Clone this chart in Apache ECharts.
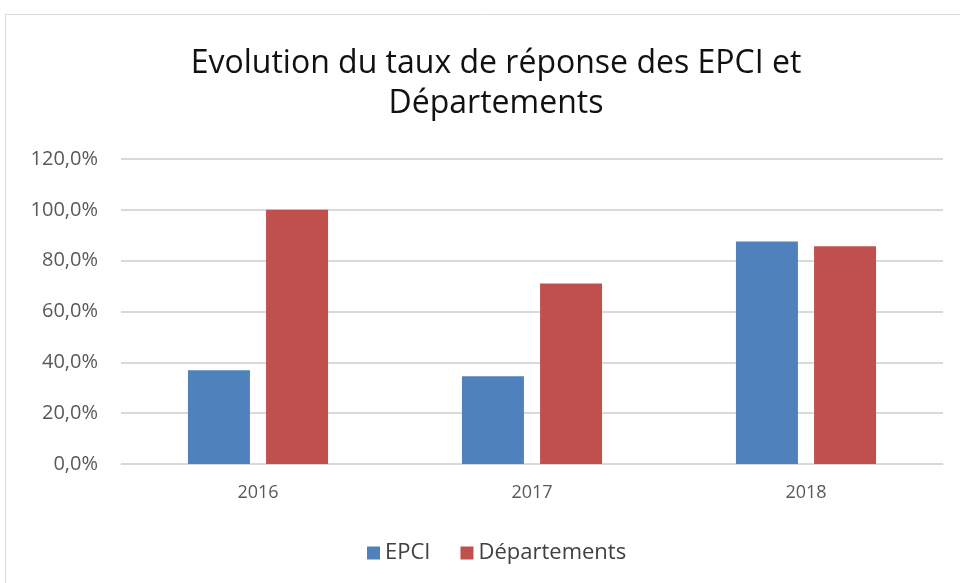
<!DOCTYPE html>
<html>
<head>
<meta charset="utf-8">
<script src="https://cdn.jsdelivr.net/npm/echarts@6/dist/echarts.min.js"></script>
<style>
  html, body { margin: 0; padding: 0; background: #fff; }
  #chart { width: 960px; height: 583px; }
</style>
</head>
<body>
<div id="chart"></div>
<script>
// données
var annees = ['2016', '2017', '2018'];
var epci = [36.9, 34.5, 87.5];
var departements = [100.0, 71.0, 85.7];
var nomsSeries = ['EPCI', 'Départements'];

var police = '"Open Sans", Lato, sans-serif';

var myChart = echarts.init(document.getElementById('chart'));

function pct(v) {
    return v.toFixed(1).replace('.', ',') + '%';
}

var opt_ = {
    animation: false,
    backgroundColor: '#fff',
    graphic: [{
        type: 'rect',
        shape: { x: 5.5, y: 14.5, width: 1200, height: 1200 },
        style: { fill: 'none', stroke: '#d9d9d9', lineWidth: 1 },
        silent: true
    }],
    title: {
        text: 'Evolution du taux de réponse des EPCI et\nDépartements',
        left: 491,
        top: 39,
        textAlign: 'center',
        textStyle: {
            fontFamily: police,
            fontWeight: 'normal',
            fontSize: 32,
            color: '#111',
            lineHeight: 40
        }
    },
    legend: {
        data: nomsSeries,
        left: 362,
        top: 537,
        itemWidth: 13,
        itemHeight: 13,
        itemGap: 30,
        icon: 'rect',
        textStyle: { fontFamily: police, fontSize: 22, color: '#404040' }
    },
    grid: {
        left: 121,
        right: 17,
        top: 159,
        bottom: 119
    },
    xAxis: {
        type: 'category',
        data: annees,
        axisTick: { show: false },
        axisLine: { lineStyle: { color: '#d9d9d9', width: 1 } },
        axisLabel: { fontFamily: police, fontSize: 18, color: '#595959', margin: 20 }
    },
    yAxis: {
        type: 'value',
        min: 0,
        max: 120,
        interval: 20,
        axisLine: { show: false },
        axisTick: { show: false },
        splitLine: { lineStyle: { color: '#d9d9d9', width: 2 } },
        axisLabel: {
            fontFamily: police,
            fontSize: 20,
            color: '#595959',
            margin: 23,
            formatter: pct
        }
    },
    series: [{
        name: nomsSeries[0],
        type: 'bar',
        data: epci,
        barWidth: 62,
        barGap: '26%',
        itemStyle: { color: '#4F81BD' }
    }, {
        name: nomsSeries[1],
        type: 'bar',
        data: departements,
        barWidth: 62,
        itemStyle: { color: '#C0504D' }
    }]
};

myChart.setOption(opt_);
</script>
</body>
</html>
